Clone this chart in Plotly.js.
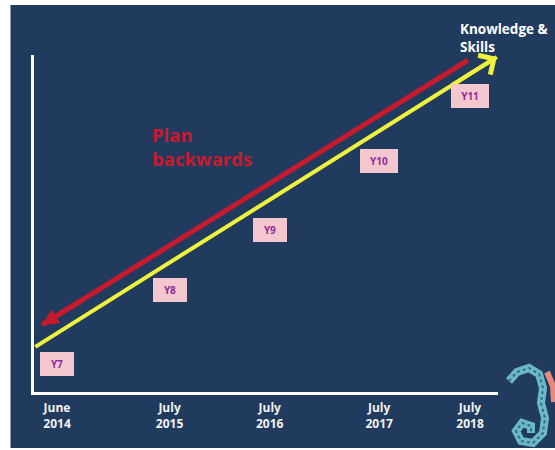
<!DOCTYPE html>
<html>
<head>
<meta charset="utf-8">
<script src="https://cdn.plot.ly/plotly-3.0.1.min.js"></script>
<style>html,body{margin:0;padding:0;background:#fff;}#chart{width:555px;height:450px;}</style>
</head>
<body>
<div id="chart"></div>
<script>
// ---- data (schematic values) ----
const tickPos   = [0, 1.09, 2.06, 3.12, 4.0];
const tickText  = ['June<br>2014', 'July<br>2015', 'July<br>2016', 'July<br>2017', 'July<br>2018'];
const yearLabels = ['Y7', 'Y8', 'Y9', 'Y10', 'Y11'];
const yearLevel  = [0.83, 3.03, 4.81, 6.85, 8.78];
const growthX = [-0.21, 4.26];   // yellow arrow: start -> tip
const growthY = [1.34, 9.94];
const planX   = [3.98, -0.145];  // red arrow: start -> tip
const planY   = [9.85, 1.99];

// ---- layout geometry ----
const W = 555, H = 450;
const M = {l: 34, r: 57, t: 55, b: 58};
const PW = W - M.l - M.r, PH = H - M.t - M.b;
const px = v => (v - M.l) / PW;            // pixel -> paper (decoration only)
const py = v => (H - M.b - v) / PH;

const NAVY = '#213b5f';
const YELLOW = '#eef23c';
const RED = '#c81a2c';
const FONT = 'Open Sans, DejaVu Sans, sans-serif';

const traces = [
  { x: growthX, y: growthY, mode: 'lines', line: {color: YELLOW, width: 4},
    hoverinfo: 'skip', showlegend: false },
  { x: planX, y: planY, mode: 'lines', line: {color: RED, width: 5},
    hoverinfo: 'skip', showlegend: false }
];

const annotations = [];
// arrow heads
annotations.push({x: growthX[1], y: growthY[1], ax: growthX[0] + (growthX[1]-growthX[0])*0.9,
  ay: growthY[0] + (growthY[1]-growthY[0])*0.9, xref: 'x', yref: 'y', axref: 'x', ayref: 'y',
  text: '', showarrow: true, arrowhead: 4, arrowsize: 1.1, arrowwidth: 4, arrowcolor: YELLOW, standoff: 0});
annotations.push({x: planX[1], y: planY[1], ax: planX[0] + (planX[1]-planX[0])*0.9,
  ay: planY[0] + (planY[1]-planY[0])*0.9, xref: 'x', yref: 'y', axref: 'x', ayref: 'y',
  text: '', showarrow: true, arrowhead: 2, arrowsize: 0.65, arrowwidth: 5, arrowcolor: RED, standoff: 0});
// year boxes
yearLabels.forEach((t, i) => annotations.push({
  x: tickPos[i], y: yearLevel[i], xref: 'x', yref: 'y', text: '<b>' + t + '</b>', showarrow: false,
  bgcolor: '#f4c7cf', borderpad: 5, borderwidth: 0, width: t.length > 2 ? 28 : 24, height: 14,
  font: {family: FONT, size: 10, color: '#8e2d9a'}
}));
// texts
annotations.push({x: px(458), y: py(38), xref: 'paper', yref: 'paper', xanchor: 'left', yanchor: 'middle',
  align: 'left', showarrow: false, text: '<b>Knowledge &amp;<br>Skills</b>',
  font: {family: FONT, size: 13.5, color: '#ffffff'}});
annotations.push({x: px(150), y: py(146), xanchor: 'left', yanchor: 'middle', xref: 'paper', yref: 'paper',
  align: 'left', showarrow: false, text: '<b>Plan<br>backwards</b>',
  font: {family: FONT, size: 18.5, color: RED}});

const seahorse = [[509,381],[517,372],[529,368],[539,374],[543,388],[541,403],[545,418],[543,433],[533,443],[521,441],[516,431],[522,423],[531,426],[531,433]];
const shapes = [
  // slide background
  {type: 'rect', xref: 'paper', yref: 'paper', x0: px(10.5), x1: px(556), y0: py(448), y1: py(5),
   fillcolor: NAVY, line: {width: 0}, layer: 'below'},
  // decorative seahorse
  {type: 'path', xref: 'paper', yref: 'paper', layer: 'above',
   path: 'M' + [[547,372],[553,386],[554,402]].map(p => px(p[0]) + ',' + py(p[1])).join(' L'),
   line: {color: '#e88a7a', width: 6}},
  {type: 'path', xref: 'paper', yref: 'paper', layer: 'above',
   path: 'M' + seahorse.map(p => px(p[0]) + ',' + py(p[1])).join(' L'),
   line: {color: '#6cb8c6', width: 8}},
  {type: 'path', xref: 'paper', yref: 'paper', layer: 'above',
   path: 'M' + seahorse.map(p => px(p[0]) + ',' + py(p[1])).join(' L'),
   line: {color: '#2f6f86', width: 2, dash: 'dot'}}
];

const layout = {
  width: W, height: H,
  margin: M,
  paper_bgcolor: '#ffffff',
  plot_bgcolor: 'rgba(0,0,0,0)',
  showlegend: false,
  xaxis: {range: [-0.223, 4.271], showgrid: false, zeroline: false, showline: true,
    linecolor: '#ffffff', linewidth: 3, ticks: '', tickvals: tickPos, ticktext: tickText,
    ticklabelstandoff: 3,
    tickfont: {family: FONT, size: 12, color: '#f2f2f2', weight: 'bold'}, fixedrange: true},
  yaxis: {range: [0, 10], showgrid: false, zeroline: false, showline: true,
    linecolor: '#ffffff', linewidth: 3, showticklabels: false, ticks: '', fixedrange: true},
  annotations: annotations,
  shapes: shapes
};

Plotly.newPlot('chart', traces, layout, {displayModeBar: false, staticPlot: true});
</script>
</body>
</html>
